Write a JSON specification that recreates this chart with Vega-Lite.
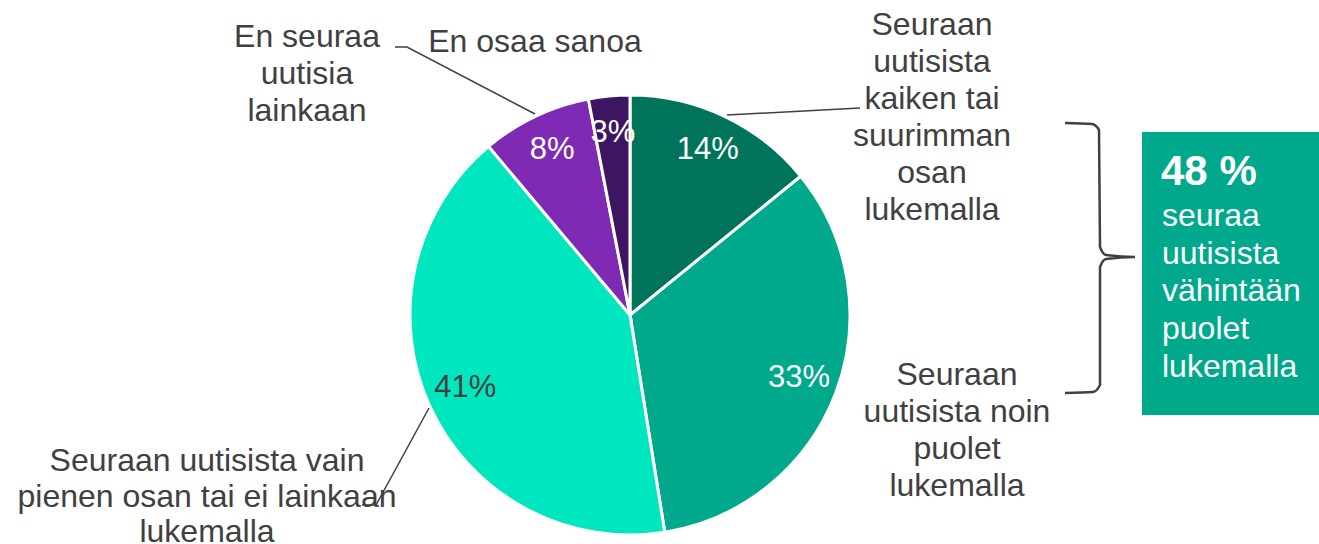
{
  "$schema": "https://vega.github.io/schema/vega-lite/v6.json",
  "width": 1319,
  "height": 544,
  "autosize": {"type": "none"},
  "padding": 0,
  "background": "white",
  "config": {"view": {"stroke": null}, "font": "Liberation Sans"},
  "datasets": {
    "pie": [
      {"category": "Seuraan uutisista kaiken tai suurimman osan lukemalla", "value": 14, "order": 1, "label": "14%"},
      {"category": "Seuraan uutisista noin puolet lukemalla", "value": 33, "order": 2, "label": "33%"},
      {"category": "Seuraan uutisista vain pienen osan tai ei lainkaan lukemalla", "value": 41, "order": 3, "label": "41%"},
      {"category": "En seuraa uutisia lainkaan", "value": 8, "order": 4, "label": "8%"},
      {"category": "En osaa sanoa", "value": 3, "order": 5, "label": "3%"}
    ],
    "labels": [
      {"text": "Seuraan\nuutisista\nkaiken tai\nsuurimman\nosan\nlukemalla", "x": 932, "y": 10, "g": "a"},
      {"text": "Seuraan\nuutisista noin\npuolet\nlukemalla", "x": 957, "y": 360, "g": "a"},
      {"text": "En seuraa\nuutisia\nlainkaan", "x": 307, "y": 22, "g": "a"},
      {"text": "En osaa sanoa", "x": 535, "y": 27, "g": "a"},
      {"text": "Seuraan uutisista vain\npienen osan tai ei lainkaan\nlukemalla", "x": 207, "y": 446, "g": "b"}
    ],
    "leaders": [
      {"id": 1, "k": 1, "x": 727, "y": 115},
      {"id": 1, "k": 2, "x": 860, "y": 108},
      {"id": 2, "k": 1, "x": 395, "y": 47},
      {"id": 2, "k": 2, "x": 407, "y": 47},
      {"id": 2, "k": 3, "x": 535, "y": 114},
      {"id": 3, "k": 1, "x": 429, "y": 408},
      {"id": 3, "k": 2, "x": 376, "y": 505},
      {"id": 3, "k": 3, "x": 362, "y": 505}
    ],
    "brace": [
      {"k": 1, "x": 1065, "y": 123},
      {"k": 2, "x": 1092, "y": 124},
      {"k": 3, "x": 1099, "y": 130},
      {"k": 4, "x": 1100, "y": 247},
      {"k": 5, "x": 1106, "y": 255},
      {"k": 6, "x": 1135, "y": 257},
      {"k": 7, "x": 1106, "y": 259},
      {"k": 8, "x": 1100, "y": 267},
      {"k": 9, "x": 1100, "y": 385},
      {"k": 10, "x": 1093, "y": 392},
      {"k": 11, "x": 1065, "y": 393}
    ],
    "box": [
      {"x": 1142, "x2": 1319, "y": 132, "y2": 415}
    ],
    "boxhead": [
      {"text": "48 %", "x": 1161, "y": 152}
    ],
    "boxtext": [
      {"text": "seuraa\nuutisista\nvähintään\npuolet\nlukemalla", "x": 1162, "y": 201}
    ]
  },
  "layer": [
    {
      "data": {"name": "pie"},
      "mark": {"type": "arc", "outerRadius": 220, "stroke": "white", "strokeWidth": 3},
      "encoding": {
        "x": {"datum": 630, "type": "quantitative", "scale": {"domain": [0, 1319], "nice": false, "zero": false}, "axis": null},
        "y": {"datum": 315, "type": "quantitative", "scale": {"domain": [0, 544], "nice": false, "zero": false, "reverse": true}, "axis": null},
        "theta": {"field": "value", "type": "quantitative", "stack": true},
        "order": {"field": "order", "type": "quantitative"},
        "color": {
          "field": "category", "type": "nominal", "legend": null,
          "scale": {
            "domain": ["Seuraan uutisista kaiken tai suurimman osan lukemalla", "Seuraan uutisista noin puolet lukemalla", "Seuraan uutisista vain pienen osan tai ei lainkaan lukemalla", "En seuraa uutisia lainkaan", "En osaa sanoa"],
            "range": ["#00745B", "#00A98B", "#00E6BE", "#7F2AB5", "#3E1560"]
          }
        }
      }
    },
    {
      "data": {"name": "pie"},
      "mark": {"type": "text", "radius": 181, "fontSize": 31, "align": "center", "baseline": "middle"},
      "encoding": {
        "x": {"datum": 630, "type": "quantitative"},
        "y": {"datum": 313, "type": "quantitative"},
        "theta": {"field": "value", "type": "quantitative", "stack": true},
        "order": {"field": "order", "type": "quantitative"},
        "text": {"field": "label"},
        "color": {"condition": {"test": "datum.value === 41", "value": "#404040"}, "value": "white"}
      }
    },
    {
      "data": {"name": "leaders"},
      "mark": {"type": "line", "color": "#404040", "strokeWidth": 1.5},
      "encoding": {
        "x": {"field": "x", "type": "quantitative"},
        "y": {"field": "y", "type": "quantitative"},
        "detail": {"field": "id"},
        "order": {"field": "k", "type": "quantitative"}
      }
    },
    {
      "data": {"name": "brace"},
      "mark": {"type": "line", "color": "#404040", "strokeWidth": 2.5, "interpolate": "monotone"},
      "encoding": {
        "x": {"field": "x", "type": "quantitative"},
        "y": {"field": "y", "type": "quantitative"},
        "order": {"field": "k", "type": "quantitative"}
      }
    },
    {
      "data": {"name": "labels"},
      "transform": [{"filter": "datum.g === 'a'"}],
      "mark": {"type": "text", "fontSize": 32, "lineHeight": 37, "lineBreak": "\n", "align": "center", "baseline": "top", "color": "#404040"},
      "encoding": {
        "x": {"field": "x", "type": "quantitative"},
        "y": {"field": "y", "type": "quantitative"},
        "text": {"field": "text"}
      }
    },
    {
      "data": {"name": "labels"},
      "transform": [{"filter": "datum.g === 'b'"}],
      "mark": {"type": "text", "fontSize": 32, "lineHeight": 35.5, "lineBreak": "\n", "align": "center", "baseline": "top", "color": "#404040"},
      "encoding": {
        "x": {"field": "x", "type": "quantitative"},
        "y": {"field": "y", "type": "quantitative"},
        "text": {"field": "text"}
      }
    },
    {
      "data": {"name": "box"},
      "mark": {"type": "rect", "color": "#00A98B"},
      "encoding": {
        "x": {"field": "x", "type": "quantitative"},
        "x2": {"field": "x2"},
        "y": {"field": "y", "type": "quantitative"},
        "y2": {"field": "y2"}
      }
    },
    {
      "data": {"name": "boxhead"},
      "mark": {"type": "text", "fontSize": 42, "fontWeight": "bold", "align": "left", "baseline": "top", "color": "white"},
      "encoding": {
        "x": {"field": "x", "type": "quantitative"},
        "y": {"field": "y", "type": "quantitative"},
        "text": {"field": "text"}
      }
    },
    {
      "data": {"name": "boxtext"},
      "mark": {"type": "text", "fontSize": 32, "lineHeight": 37.7, "lineBreak": "\n", "align": "left", "baseline": "top", "color": "white"},
      "encoding": {
        "x": {"field": "x", "type": "quantitative"},
        "y": {"field": "y", "type": "quantitative"},
        "text": {"field": "text"}
      }
    }
  ]
}
